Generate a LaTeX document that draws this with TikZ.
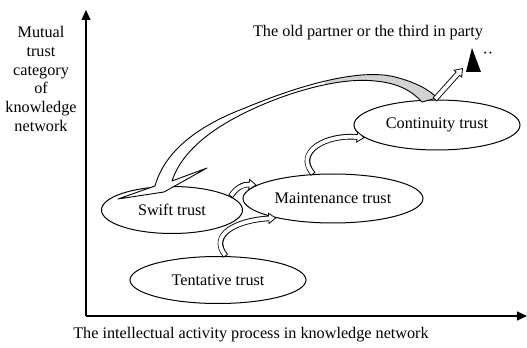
\documentclass[tikz,border=0pt]{standalone}
\usepackage{fontspec}
\setmainfont{Liberation Serif}
\usetikzlibrary{positioning,shapes.geometric,arrows.meta}

\tikzset{
  trust/.style={draw, ellipse, inner sep=0pt, line width=0.5pt},
  axis/.style={line width=0.6pt, -{Triangle[length=5pt,width=4.5pt]}},
  hollowout/.style={line width=2.8pt, -{Triangle[length=4pt,width=5.6pt]}},
  hollowin/.style={white, line width=1.9pt, shorten <=0.45pt, shorten >=0.78pt,
    -{Triangle[length=2.77pt,width=3.88pt]}},
}

% hollow block arrow: black shape, white inside
\newcommand{\hollowarrow}[1]{%
  \draw[hollowout] #1;
  \draw[hollowin] #1;
}

% band of the return arrow
\newcommand{\returnband}{(118,199) -- (155,186)
  .. controls (165,150) and (200,125) .. (245,108)
  .. controls (300,85) and (360,68) .. (395,77)
  .. controls (415,82) and (430,90) .. (437,98) -- (422,102)
  .. controls (412,91) and (398,83) .. (375,81)
  .. controls (340,77) and (290,92) .. (255,108)
  .. controls (215,126) and (182,150) .. (172,181)
  -- (207,168) -- (164,192) -- cycle}

\begin{document}
\begin{tikzpicture}[x=0.5pt, y=-0.5pt, font=\fontsize{8.1}{9.4}\selectfont]
  \useasboundingbox (0,0) rectangle (527,348);

  % Axes
  \coordinate (O) at (86,316);
  \coordinate (ytop) at (86,10);
  \coordinate (xend) at (527,316);
  \draw[axis] (O) -- (ytop);
  \draw[axis] (O) -- (xend);

  % Axis labels
  \node[align=center] (ylab) at (41,79) {Mutual\\trust\\category\\of\\knowledge\\network};
  \node (xlab) at (251,335) {The intellectual activity process in knowledge network};
  \node (toplab) at (368,33) {The old partner or the third in party};

  % Trust stages
  \node[trust, minimum width=70.5pt, minimum height=23.5pt] (swift) at (172,210) {Swift trust};
  \node[trust, minimum width=88pt, minimum height=23.5pt] (tentative) at (218,280) {Tentative trust};
  \node[trust, minimum width=90pt, minimum height=24.5pt] (maint) at (333,198.5) {Maintenance trust};
  \node[trust, minimum width=83pt, minimum height=25pt] (contin) at (437,125) {Continuity trust};

  % Old partner or third party
  \fill (472,48) -- (481,72) -- (466,72) -- cycle;
  \node[inner sep=0pt] (dots) at (488,55) {··};
  \coordinate (tip) at (463,68);

  % Return arrow back to swift trust
  \fill[white] \returnband;
  \begin{scope}
    \clip (325,0) rectangle (527,348);
    \fill[gray!35] \returnband;
  \end{scope}
  \draw[line width=0.45pt, line join=round] \returnband;

  % Steps between stages
  \hollowarrow{(tentative.72) .. controls (208,234) and (238,220) .. (maint.199)}
  \hollowarrow{(swift.13) .. controls (236,188) and (243,184) .. (maint.170)}
  \hollowarrow{(maint.129) .. controls (294,152) and (326,134) .. (contin.190)}
  \hollowarrow{(contin.95) -- (tip)}
\end{tikzpicture}
\end{document}
